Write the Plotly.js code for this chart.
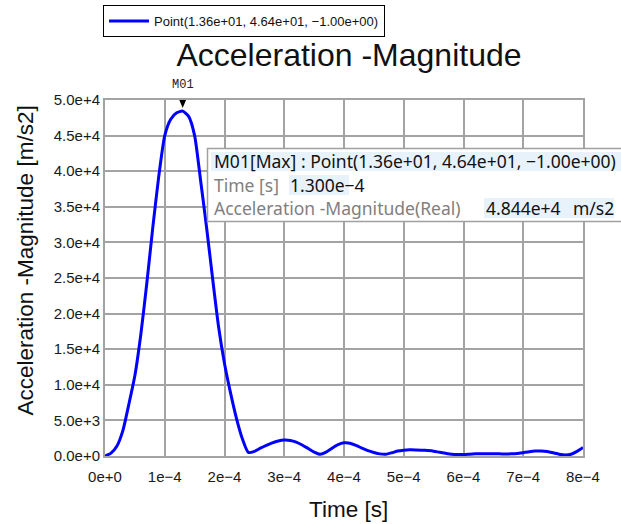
<!DOCTYPE html>
<html>
<head>
<meta charset="utf-8">
<script src="https://cdn.plot.ly/plotly-3.0.1.min.js"></script>
<style>html,body{margin:0;padding:0;background:#fff;}#chart{width:621px;height:524px;}</style>
</head>
<body>
<div id="chart"></div>
<script>
// ---- data ----
const seriesName = "Point(1.36e+01, 4.64e+01, \u22121.00e+00)";
const timeValues = [
  0, 1e-5, 2e-5, 3e-5, 4e-5, 5e-5, 6e-5, 7e-5, 8e-5, 9e-5,
  1.0e-4, 1.1e-4, 1.2e-4, 1.3e-4, 1.4e-4, 1.5e-4, 1.6e-4, 1.7e-4, 1.8e-4, 1.9e-4,
  2.0e-4, 2.1e-4, 2.2e-4, 2.3e-4, 2.4e-4, 2.5e-4, 2.6e-4, 2.7e-4, 2.8e-4, 2.9e-4,
  3.0e-4, 3.1e-4, 3.2e-4, 3.3e-4, 3.4e-4, 3.5e-4, 3.6e-4, 3.7e-4, 3.8e-4, 3.9e-4,
  4.0e-4, 4.1e-4, 4.2e-4, 4.3e-4, 4.4e-4, 4.5e-4, 4.6e-4, 4.7e-4, 4.8e-4, 4.9e-4,
  5.0e-4, 5.1e-4, 5.2e-4, 5.3e-4, 5.4e-4, 5.5e-4, 5.6e-4, 5.7e-4, 5.8e-4, 5.9e-4,
  6.0e-4, 6.1e-4, 6.2e-4, 6.3e-4, 6.4e-4, 6.5e-4, 6.6e-4, 6.7e-4, 6.8e-4, 6.9e-4,
  7.0e-4, 7.1e-4, 7.2e-4, 7.3e-4, 7.4e-4, 7.5e-4, 7.6e-4, 7.7e-4, 7.8e-4, 7.9e-4,
  8.0e-4
];
const accelValues = [
  0, 400, 1400, 3600, 7300, 11300, 17100, 24300, 32100, 39300,
  45000, 47300, 48200, 48440, 47700, 45000, 38700, 32100, 25000, 18200,
  13000, 8900, 5300, 2400, 500, 650, 1100, 1500, 1850, 2100,
  2230, 2180, 1950, 1550, 1050, 550, 250, 550, 1100, 1600,
  1850, 1800, 1500, 1100, 750, 500, 300, 250, 450, 700,
  820, 870, 860, 820, 760, 680, 520, 380, 260, 210,
  220, 260, 300, 320, 330, 320, 300, 290, 300, 350,
  470, 600, 690, 700, 620, 450, 260, 150, 250, 650,
  1200
];
const markerLabel = "M01";
const markerTime = 1.3e-4;
const markerValue = 48440;
const tipHeader = "M01[Max] : Point(1.36e+01, 4.64e+01, \u22121.00e+00)";
const tipTimeLabel = "Time [s]";
const tipTimeValue = "1.300e\u22124";
const tipAccLabel = "Acceleration -Magnitude(Real)";
const tipAccValue = "4.844e+4";
const tipAccUnit = "m/s2";
const xTitle = "Time [s]";
const yTitle = "Acceleration -Magnitude [m/s2]";

// ---- layout helpers (pixel -> paper) ----
const L = 105, R = 583, T = 100, B = 456;
const px = x => (x - L) / (R - L);
const py = y => (B - y) / (B - T);

const FONT = "Liberation Sans, Arial, sans-serif";
const TIPFONT = "Noto Sans, Liberation Sans, sans-serif";
const GRID = "#a3a3a3";

const trace = {
  x: timeValues, y: accelValues, type: "scatter", mode: "lines",
  name: seriesName,
  line: {color: "#0000ff", width: 3, shape: "spline", smoothing: 0.6},
  hoverinfo: "skip"
};

const tipTextAnn = (txt, x, y, color) => ({
  xref: "paper", yref: "paper", x: px(x), y: py(y),
  xanchor: "left", yanchor: "middle", showarrow: false, text: txt,
  font: {family: TIPFONT, size: 17.5, color: color}
});

const layout = {
  width: 621, height: 524,
  margin: {l: L, r: 621 - R, t: T, b: 524 - B, pad: 0, autoexpand: false},
  paper_bgcolor: "#ffffff", plot_bgcolor: "#ffffff",
  font: {family: FONT, color: "#1a1a1a"},
  title: {
    text: "Acceleration -Magnitude",
    font: {family: FONT, size: 32, color: "#111"},
    xref: "paper", x: px(349), xanchor: "center",
    yref: "container", y: (524 - 55) / 524, yanchor: "middle"
  },
  showlegend: true,
  legend: {
    x: px(103), y: py(5), xanchor: "left", yanchor: "top",
    bordercolor: "#000", borderwidth: 1, bgcolor: "#fff",
    font: {family: FONT, size: 13, color: "#111"},
    itemwidth: 40
  },
  xaxis: {
    range: [0, 8e-4], tick0: 0, dtick: 1e-4, tickformat: ".0e",
    showgrid: true, gridcolor: GRID, gridwidth: 2,
    showline: true, linecolor: GRID, linewidth: 2, mirror: true,
    zeroline: false, ticks: "outside", ticklen: 6, tickcolor: "rgba(0,0,0,0)", fixedrange: true,
    tickfont: {family: FONT, size: 15, color: "#1a1a1a"}
  },
  yaxis: {
    range: [0, 50000], tick0: 0, dtick: 5000, tickformat: ".1e",
    showgrid: true, gridcolor: GRID, gridwidth: 2,
    showline: true, linecolor: GRID, linewidth: 2, mirror: true,
    zeroline: false, ticks: "", fixedrange: true,
    tickfont: {family: FONT, size: 15, color: "#1a1a1a"}
  },
  shapes: [
    // peak marker triangle (pixel sized, anchored at the max point)
    {type: "path", xref: "x", yref: "y", xsizemode: "pixel", ysizemode: "pixel",
     xanchor: markerTime, yanchor: markerValue,
     path: "M-5,15 L5,15 L0,3 Z", fillcolor: "#000", line: {width: 0}, layer: "above"},
    // tooltip box
    {type: "rect", xref: "paper", yref: "paper", x0: px(207.5), x1: px(640), y0: py(148.5), y1: py(221.5),
     fillcolor: "#ffffff", line: {color: "#a0a0a0", width: 1.5}, layer: "above"},
    // highlight strips
    {type: "rect", xref: "paper", yref: "paper", x0: px(211), x1: px(621), y0: py(152), y1: py(171),
     fillcolor: "#e8f2fb", line: {width: 0}, layer: "above"},
    {type: "rect", xref: "paper", yref: "paper", x0: px(289), x1: px(349), y0: py(175), y1: py(195),
     fillcolor: "#e8f2fb", line: {width: 0}, layer: "above"},
    {type: "rect", xref: "paper", yref: "paper", x0: px(484), x1: px(614), y0: py(198), y1: py(218),
     fillcolor: "#e8f2fb", line: {width: 0}, layer: "above"}
  ],
  annotations: [
    // axis titles placed as in the reference
    {xref: "paper", yref: "paper", x: px(348), y: py(509), xanchor: "center", yanchor: "middle",
     showarrow: false, text: xTitle,
     font: {family: FONT, size: 22.5, color: "#111"}},
    {xref: "paper", yref: "paper", x: px(25), y: py(260.5), xanchor: "center", yanchor: "middle",
     showarrow: false, textangle: -90, text: yTitle,
     font: {family: FONT, size: 22.5, color: "#111"}},
    {xref: "x", yref: "y", x: markerTime, y: markerValue, yshift: 26,
     xanchor: "center", yanchor: "middle", showarrow: false, text: markerLabel,
     font: {family: "Liberation Mono, DejaVu Sans Mono, monospace", size: 12, color: "#222"}},
    tipTextAnn(tipHeader, 212, 161, "#111"),
    tipTextAnn(tipTimeLabel, 212, 185, "#808080"),
    tipTextAnn(tipTimeValue, 288, 185, "#111"),
    tipTextAnn(tipAccLabel, 212, 208, "#808080"),
    tipTextAnn(tipAccValue, 484, 208, "#111"),
    tipTextAnn(tipAccUnit, 571, 208, "#111")
  ]
};

Plotly.newPlot("chart", [trace], layout, {staticPlot: true, displayModeBar: false});
</script>
</body>
</html>
